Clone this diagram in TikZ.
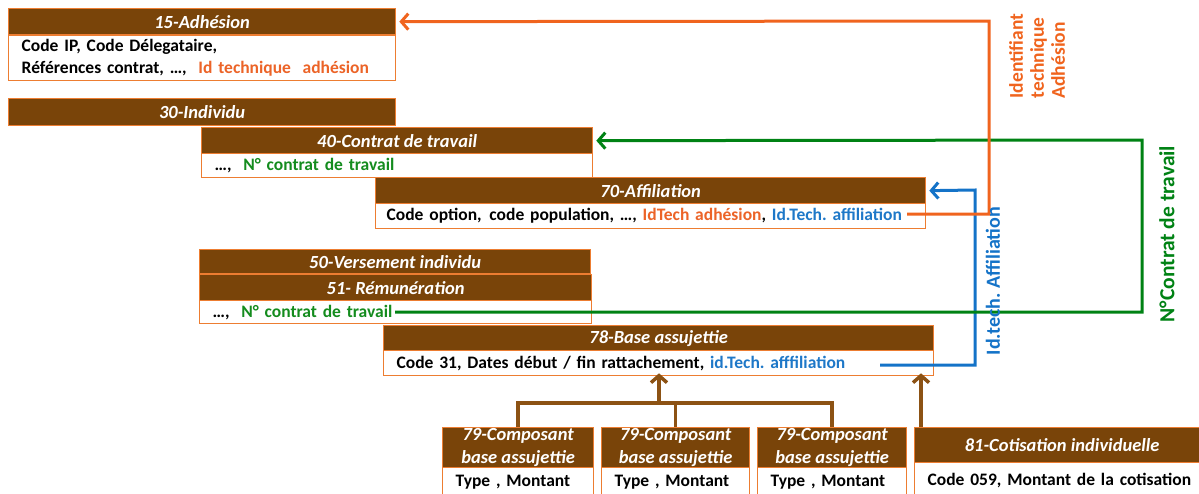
\documentclass[tikz,border=0pt]{standalone}
\usepackage{fontspec}
\setmainfont{Carlito}
\usetikzlibrary{arrows.meta}
\definecolor{hdrbrown}{RGB}{121,68,9}
\definecolor{bord}{RGB}{237,125,49}
\definecolor{torange}{RGB}{236,100,40}
\definecolor{tgreen}{RGB}{20,140,30}
\definecolor{tblue}{RGB}{30,120,200}
\definecolor{lorange}{RGB}{240,100,30}
\definecolor{lgreen}{RGB}{0,130,20}
\definecolor{lblue}{RGB}{20,115,200}
\definecolor{abrown}{RGB}{140,82,20}
\frenchspacing
\begin{document}
\begin{tikzpicture}[x=1pt,y=-1pt,
  hdr/.style={draw=bord, fill=hdrbrown, line width=1.3pt, anchor=north west, inner sep=0pt,
    text=white, font=\fontsize{18.5}{23}\selectfont\bfseries\itshape, align=center},
  body/.style={draw=bord, fill=white, line width=1.3pt, anchor=north west, inner xsep=13pt,
    inner ysep=0pt, font=\fontsize{17.5}{22}\selectfont\bfseries, align=left},
  conn/.style={line width=3pt},
  tipA/.style={-{Straight Barb[length=7pt,width=16pt]}},
  lbl/.style={font=\fontsize{20}{21}\selectfont\bfseries, rotate=90, inner sep=0pt}
]
\useasboundingbox (0,0) rectangle (1199,493);
\clip (0,0) rectangle (1199,493);

% 15
\node[hdr, minimum width=387pt, minimum height=26pt] (h15) at (8,8) {15-Adhésion};
\node[body, minimum width=387pt, minimum height=45pt, text width=361pt] (b15) at (8,35)
  {Code IP, Code Délegataire,\\Références contrat, …,\ \ \textcolor{torange}{Id technique\ \ adhésion}};
% 30
\node[hdr, minimum width=387pt, minimum height=27pt] (h30) at (8,98) {30-Individu};
% 40
\node[hdr, minimum width=391pt, minimum height=26pt] (h40) at (201,127) {40-Contrat de travail};
\node[body, minimum width=391pt, minimum height=24pt, text width=365pt] (b40) at (201,153)
  {…,\ \ \textcolor{tgreen}{N° contrat de travail}};
% 70
\node[hdr, minimum width=550pt, minimum height=26pt] (h70) at (375,177) {70-Affiliation};
\node[body, minimum width=550pt, minimum height=25pt, text width=528pt, inner xsep=11pt] (b70) at (375,203)
  {Code option,\hspace{2pt} code population, …, \textcolor{torange}{IdTech adhésion}, \textcolor{tblue}{Id.Tech. affiliation}};
% 50 / 51
\node[hdr, minimum width=391pt, minimum height=24pt] (h50) at (199,249) {50-Versement individu};
\node[hdr, minimum width=392pt, minimum height=26pt] (h51) at (199,274) {51- Rémunération};
\node[body, minimum width=392pt, minimum height=23pt, text width=366pt] (b51) at (199,300)
  {…,\ \ \textcolor{tgreen}{N° contrat de travail}};
% 78
\node[hdr, minimum width=550pt, minimum height=25pt] (h78) at (383,325) {78-Base assujettie};
\node[body, minimum width=550pt, minimum height=25pt, text width=524pt] (b78) at (383,350)
  {Code 31, Dates début / fin rattachement, \textcolor{tblue}{id.Tech. afffiliation}};
% 79 x3
\node[hdr, minimum width=151pt, minimum height=40pt] (h79a) at (442,427) {79-Composant\\base assujettie};
\node[body, minimum width=151pt, minimum height=30pt, text width=125pt] (b79a) at (442,467) {Type , Montant};
\node[hdr, minimum width=148pt, minimum height=40pt] (h79b) at (601,427) {79-Composant\\base assujettie};
\node[body, minimum width=148pt, minimum height=30pt, text width=122pt] (b79b) at (601,467) {Type , Montant};
\node[hdr, minimum width=149pt, minimum height=40pt] (h79c) at (757,427) {79-Composant\\base assujettie};
\node[body, minimum width=149pt, minimum height=30pt, text width=123pt] (b79c) at (757,467) {Type , Montant};
% 81
\node[hdr, minimum width=295pt, minimum height=35pt] (h81) at (914,427) {81-Cotisation individuelle};
\node[body, minimum width=295pt, minimum height=35pt, text width=269pt] (b81) at (914,462) {Code 059, Montant de la cotisation};

% connectors
\coordinate (oS) at (907,214);
\coordinate (oC) at (989,21);
\coordinate (gS) at (395,312);
\coordinate (gC) at (1142,140);
\coordinate (bS) at (880,365);
\coordinate (bC) at (975,190);

\draw[conn, lblue, tipA] (bS) -| (bC) -- ([xshift=3pt]h70.east);
\draw[conn, lgreen, tipA] (gS) -| (gC) -- ([xshift=3pt]h40.east);
\draw[conn, lorange, tipA] (oS) -| (oC) -- ([xshift=3pt]h15.east);

% brown tree
\coordinate (tj) at (659,403);
\draw[conn, abrown, line width=3.5pt] (h79a.north) |- (tj) -| (h79c.north);
\draw[conn, abrown, line width=3.5pt] (h79b.north) -- (h79b.north |- tj);
\draw[conn, abrown, line width=3.5pt, tipA] (tj) -- ([yshift=3pt]tj |- b78.south);
\coordinate (cb) at (921,427);
\draw[conn, abrown, line width=3.5pt, tipA] (cb) -- ([yshift=3pt]cb |- b78.south);

% labels
\node[lbl, text=lorange, align=left, font=\fontsize{19.5}{21}\selectfont\bfseries] (lid) at (1037,56) {Identifiant\\technique\\Adhésion};
\node[lbl, text=lgreen, font=\fontsize{21.5}{22}\selectfont\bfseries] (lnc) at (1167,234) {N°Contrat de travail};
\node[lbl, text=lblue] (laf) at (993,281) {Id.tech. Affiliation};
\end{tikzpicture}
\end{document}
